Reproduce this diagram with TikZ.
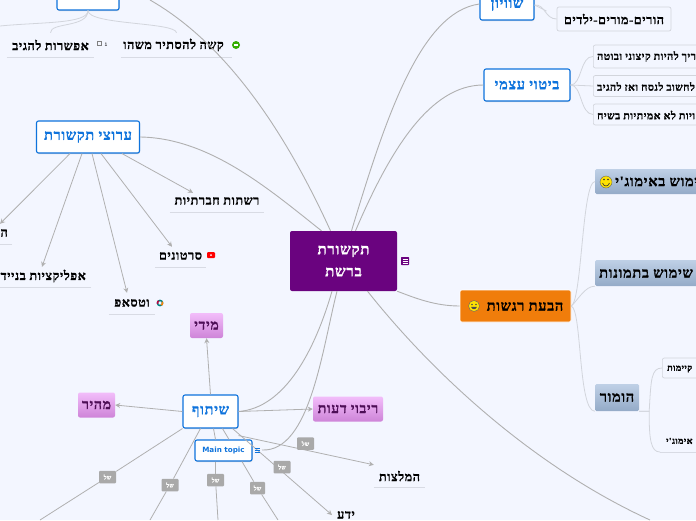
\documentclass[tikz,border=0pt]{standalone}
\usepackage{fontspec}
\usetikzlibrary{arrows.meta,shadows}
\setmainfont{Liberation Sans}
\newfontfamily\hb[Script=Hebrew,LetterSpace=5,BoldFeatures={FakeBold=1.2}]{Liberation Serif}
\newfontfamily\mtfont{DejaVu Sans}
\TeXXeTstate=1
\newcommand{\he}[1]{{\hb\bfseries\beginR #1\endR}}
\definecolor{bgc}{HTML}{F3F6FF}
\definecolor{blu}{HTML}{0E73DC}
\definecolor{conn}{HTML}{B0B0B0}
\definecolor{thin}{HTML}{D2D5DC}
\definecolor{ulc}{HTML}{D8DBE4}
\definecolor{purp}{HTML}{6A037F}
\definecolor{oran}{HTML}{F07D0B}
\definecolor{pinkA}{HTML}{F2BDFA}
\definecolor{pinkB}{HTML}{CE84D8}
\definecolor{pinkT}{HTML}{4D0E56}
\definecolor{slateA}{HTML}{BFD0E6}
\definecolor{slateB}{HTML}{94ABC8}
\definecolor{shelc}{HTML}{A9A9A9}
\tikzset{
  topicbox/.style={draw=blu,line width=1.1pt,rounded corners=2pt,fill=white,text=blu,inner sep=0pt,font=\fontsize{14.5}{17}\selectfont,
     drop shadow={shadow xshift=0.5pt,shadow yshift=-1pt,opacity=.3}},
  centerbox/.style={fill=purp,rounded corners=2pt,text=white,inner sep=0pt,align=center,font=\fontsize{15}{22}\selectfont},
  orangebox/.style={fill=oran,draw=white,line width=.6pt,rounded corners=2pt,inner sep=0pt},
  pinkbox/.style={top color=pinkA,bottom color=pinkB,rounded corners=2pt,text=pinkT,inner sep=0pt,font=\fontsize{14}{16}\selectfont},
  slatebox/.style={top color=slateA,bottom color=slateB,rounded corners=1.5pt,text=black,inner sep=0pt,font=\fontsize{14.5}{17}\selectfont},
  slatetext/.style={inner sep=0,text=black,anchor=west,font=\fontsize{14.5}{17}\selectfont},
  subbox/.style={draw=thin,fill=bgc,line width=.7pt,rounded corners=2pt,inner sep=0pt,text=black,font=\fontsize{12.5}{14}\selectfont},
  subtext/.style={anchor=west,inner sep=0,text=black,font=\fontsize{10.5}{13}\selectfont},
  tinytext/.style={anchor=west,inner sep=0,text=black,font=\fontsize{9}{11}\selectfont},
  leaf/.style={inner sep=0pt,text=black,font=\fontsize{12.5}{15}\selectfont},
  ul/.style={draw=ulc,line width=1pt},
  link/.style={draw=conn,line width=.9pt},
  lite/.style={draw=thin,line width=.8pt},
  arr/.style={draw=conn,line width=.8pt,-{Stealth[length=5pt,width=5pt]}},
  shel/.style={fill=shelc,rounded corners=1pt,text=white,inner sep=0pt,minimum width=17pt,minimum height=12.5pt,font=\fontsize{6}{7}\selectfont},
}
\begin{document}
\begin{tikzpicture}[x=1pt,y=-1pt]
\useasboundingbox (0,0) rectangle (696,520);
\fill[bgc] (0,0) rectangle (696,520);
\clip (0,0) rectangle (696,520);

% free ends
\coordinate (eA) at (0,26);
\coordinate (eB) at (40,520);
\coordinate (eC) at (150,520);
\coordinate (eD) at (218,520);
\coordinate (eE) at (278,520);
\coordinate (eF) at (650,520);
\coordinate (eG) at (150,0);

% nodes
\node[centerbox,minimum width=107pt,minimum height=60pt] (cen) at (343.5,261) {\he{תקשורת}\\\he{ברשת}};
\node[topicbox,minimum width=62pt,minimum height=30pt] (tl) at (88,-5) {};
\node[topicbox,minimum width=103pt,minimum height=32pt] (ch) at (88,137) {\he{ערוצי תקשורת}};
\node[topicbox,minimum width=55pt,minimum height=33pt] (sh) at (210.5,411.5) {\he{שיתוף}};
\node[topicbox,minimum width=57pt,minimum height=21pt,font=\mtfont\bfseries\fontsize{7.2}{8}\selectfont] (mt) at (223.5,450.5) {Main topic};
\node[topicbox,minimum width=54pt,minimum height=30pt] (sw) at (507,5) {\he{שוויון}};
\node[topicbox,minimum width=86pt,minimum height=32pt] (bt) at (527,85) {\he{ביטוי עצמי}};
\node[orangebox,minimum width=111pt,minimum height=32pt] (or) at (515.5,306) {};
\node[inner sep=0,text=black,font=\fontsize{14.5}{17}\selectfont] (ort) at (525,306.5) {\he{הבעת רגשות}};

\node[leaf,minimum width=87pt,minimum height=24pt] (l1) at (50.5,45) {\he{אפשרות להגיב}};
\node[leaf,minimum width=111pt,minimum height=24pt] (l2) at (176.5,45) {\hspace{-6pt}\he{קשה להסתיר משהו}};
\node[leaf,minimum width=94pt,minimum height=22pt] (l3) at (217,201) {\he{רשתות חברתיות}};
\node[leaf,minimum width=51pt,minimum height=22pt] (l4) at (180.5,256) {\he{סרטונים}};
\node[leaf,minimum width=46pt,minimum height=22pt] (l5) at (132,303) {\he{וטסאפ}};
\node[leaf,anchor=east,minimum height=22pt] (l6) at (86,276) {\he{אפליקציות בנייד}};
\node[leaf,anchor=east,minimum height=22pt] (l7) at (8,233) {\he{הודעות}};
\node[leaf,minimum width=51pt,minimum height=22pt] (l8) at (399.5,476) {\he{המלצות}};
\node[leaf,anchor=north] (l9) at (346,511) {\he{ידע}};

\node[pinkbox,minimum width=33pt,minimum height=25pt] (p1) at (206.5,325.5) {\he{מידי}};
\node[pinkbox,minimum width=37pt,minimum height=25pt] (p2) at (96.5,405) {\he{מהיר}};
\node[pinkbox,minimum width=70pt,minimum height=25pt] (p3) at (348,409) {\he{ריבוי דעות}};

\node[slatebox,anchor=west,minimum width=150pt,minimum height=25pt] (s1) at (595,181.5) {};
\node[slatebox,anchor=west,minimum width=150pt,minimum height=26pt] (s2) at (595,273) {};
\node[slatebox,minimum width=44pt,minimum height=27pt] (s3) at (617,397.5) {\he{הומור}};
\node[slatetext] (s1t) at (615,181.5) {\he{שימוש באימוג'י}};
\node[slatetext] (s2t) at (599,273.5) {\he{שימוש בתמונות}};

\node[subbox,minimum width=114pt,minimum height=24pt] (b0) at (614,19) {\he{הורים-מורים-ילדים}};
\node[subbox,anchor=west,minimum width=160pt,minimum height=23pt] (b1) at (593,56.5) {};
\node[subbox,anchor=west,minimum width=160pt,minimum height=21pt] (b2) at (593,86) {};
\node[subbox,anchor=west,minimum width=160pt,minimum height=21pt] (b3) at (593,114.5) {};
\node[subbox,anchor=west,minimum width=60pt,minimum height=20pt] (b4) at (662,368) {};
\node[subtext] (b1t) at (597,56.5) {\he{צריך להיות קיצוני ובוטה}};
\node[subtext] (b2t) at (597,86.5) {\he{לחשוב לנסח ואז להגיב}};
\node[subtext] (b3t) at (597,115) {\he{זהויות לא אמיתיות בשיח}};
\node[tinytext] (b4t) at (667,369) {\he{קיימות}};
\node[tinytext] (b5t) at (666,441) {\he{אימוג'י}};
\coordinate (hu) at (660,452);
\coordinate (hv) at (696,452);

% underlines
\draw[ul] (l1.south west) -- (l1.south east);
\draw[ul] (l2.south west) -- (l2.south east);
\draw[ul] (l3.south west) -- (l3.south east);
\draw[ul] (l4.south west) -- (l4.south east);
\draw[ul] (l5.south west) -- (l5.south east);
\draw[ul] ([xshift=5pt]l6.south east) -- ++(-100pt,0);
\draw[ul] ([xshift=4pt]l7.south east) -- ++(-30pt,0);
\draw[ul] (l8.south west) -- (l8.south east);
\draw[ul] (hu) -- (hv);

% main links
\draw[link] ([xshift=-13pt]cen.north) .. controls (280,120) and (220,40) .. (eG);
\draw[link] ([xshift=-22pt]cen.north) .. controls (270,190) and (210,138) .. (ch.east);
\draw[link] ([xshift=8pt]cen.north) .. controls (385,120) and (420,12) .. (sw.west |- 0,4);
\draw[link] ([xshift=12pt]cen.north) .. controls (390,150) and (430,85) .. (bt.west);
\draw[link] (cen.south east) .. controls (415,298) and (435,306) .. (or.west);
\draw[link] ([xshift=24pt]cen.south) .. controls (430,370) and (530,465) .. (eF);
\draw[link] ([xshift=-11.5pt]cen.south) .. controls (315,350) and (285,408) .. (sh.east);
\draw[link] ([xshift=-6.5pt]cen.south) .. controls (322,350) and (310,452) .. (262,450);

% thin links
\draw[lite] (tl.south) .. controls (88,24) and (40,22) .. (eA);
\draw[lite] (tl.south) .. controls (88,28) and (50,22) .. (l1.north);
\draw[lite] (tl.south) .. controls (88,25) and (176,22) .. (l2.north);
\draw[lite] (sw.east) .. controls (545,4) and (545,19) .. (b0.west);
\draw[lite] (sw.east) -- ++(12pt,-6pt);
\draw[lite] (bt.east) .. controls (582,85) and (580,56) .. (b1.west);
\draw[lite] (bt.east) -- (b2.west);
\draw[lite] (bt.east) .. controls (582,85) and (580,114) .. (b3.west);
\draw[lite] (or.east) .. controls (582,300) and (582,182) .. (s1.west);
\draw[lite] (or.east) .. controls (578,300) and (585,286) .. (s2.south west);
\draw[lite] (or.east) .. controls (582,310) and (578,411) .. (s3.south west);
\draw[lite] (s3.south east) -- ++(10pt,0) .. controls (651,380) and (651,368) .. (b4.west);
\draw[lite] (s3.south east) -- ++(10pt,0) .. controls (649,440) and (651,452) .. (hu);

% arrows from channels
\draw[arr] ([xshift=-18pt]ch.south) -- ([xshift=-8pt,yshift=-2pt]l7.north east);
\draw[arr] ([xshift=-6pt]ch.south) -- ([xshift=-44pt,yshift=-2pt]l6.north east);
\draw[arr] ([xshift=4pt]ch.south) -- ([xshift=-5pt,yshift=-1pt]l5.north);
\draw[arr] ([xshift=13pt]ch.south) -- ([xshift=-8.5pt,yshift=-2pt]l4.north);
\draw[arr] ([xshift=34pt]ch.south) -- ([xshift=-24pt,yshift=-3pt]l3.north);

% arrows from sharing
\draw[arr] (sh.north) -- (p1.south);
\draw[arr] (sh.west) -- (p2.east);
\draw[arr] (sh.east) -- (p3.west);
\draw[arr] ([yshift=-7pt]sh.south east) -- (l8.north west);
\draw[arr] ([xshift=-6pt]sh.south east) -- ([xshift=-14pt,yshift=-4pt]l9.north);
\node[shel] (a1) at (107.5,477) {\he{של}};
\node[shel] (a2) at (170,485) {\he{של}};
\node[shel] (a3) at (215.5,480) {\he{של}};
\node[shel,minimum width=15pt] (a4) at (257.5,488) {\he{של}};
\node[shel] (a5) at (282,467) {\he{של}};
\node[shel] (a6) at (305.5,443.5) {\he{של}};
\draw[link,line width=.8pt] (sh.south west) -- (a1);
\draw[link,line width=.8pt] (a1) -- (eB);
\draw[link,line width=.8pt] ([xshift=18pt]sh.south west) -- (a2);
\draw[link,line width=.8pt] (a2) -- (eC);
\draw[link,line width=.8pt] ([xshift=3pt]sh.south) -- (mt.north -| a3);
\draw[link,line width=.8pt] (mt.south -| a3) -- (a3);
\draw[link,line width=.8pt] (a3) -- (eD);
\draw[link,line width=.8pt] ([xshift=12pt]sh.south) -- (mt.north -| 229,0);
\draw[link,line width=.8pt] (mt.south -| 242,0) -- (a4);
\draw[link,line width=.8pt] (a4) -- (eE);

% icons
\coordinate (ic1) at (236,45);
\fill[green!60!black!80!yellow] (ic1) circle (4pt);
\fill[white] ([xshift=-2pt,yshift=-1.2pt]ic1) rectangle ([xshift=2pt,yshift=1.2pt]ic1);
\draw[gray,line width=.5pt] (97,41) rectangle (101,45);
\node[inner sep=0,font=\fontsize{5}{6}\selectfont] (num) at (106,44.5) {1};
\fill[red,rounded corners=1pt] (207,252) rectangle (215,258);
\fill[white] (211,255) circle (1pt);
\draw[teal,line width=1.5pt] (160,303) circle (2.6pt);
\draw[orange,line width=1.5pt] (160,303) ++(-60:2.6pt) arc (-60:30:2.6pt);
\draw[purple,line width=1.5pt] (160,303) ++(120:2.6pt) arc (120:200:2.6pt);
\fill[purp,rounded corners=.6pt] (401,257) rectangle (409,265);
\foreach \yy in {259,261,263} \draw[white,line width=.6pt] (402.5,\yy) -- (407.5,\yy);
\foreach \yy in {448,450.3,452.6} \draw[blu,line width=.8pt] (254.5,\yy) -- (260,\yy);
% smiles
\fill[yellow!85!orange,draw=black!60,line width=.4pt] (474,306) circle (5.5pt);
\fill[black!70] (472,304.5) circle (.8pt) (476,304.5) circle (.8pt);
\fill[black!70] (471,306.8) .. controls (472,310) and (476,310) .. (477,306.8) -- cycle;
\fill[yellow!85!orange,draw=black!60,line width=.4pt] (606,182) circle (6pt);
\fill[black!80] (604,179.5) circle (.9pt) (608,179.5) circle (.9pt);
\draw[black!80,line width=.6pt] (602.5,183) .. controls (604,187) and (608,187) .. (609.5,183);
\end{tikzpicture}
\end{document}
